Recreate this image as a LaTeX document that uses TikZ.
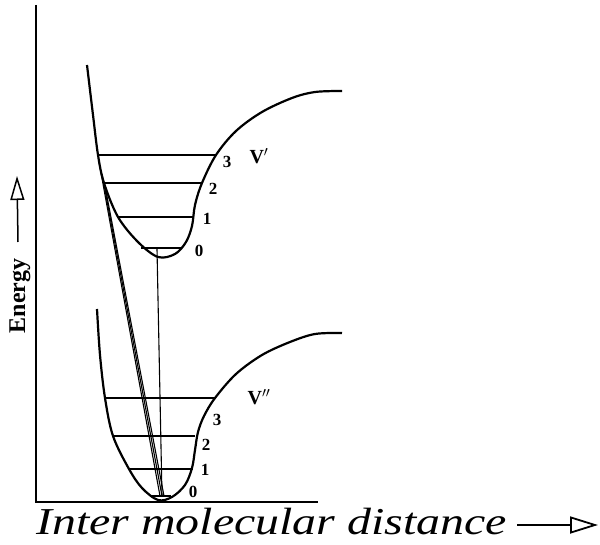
\documentclass[tikz,border=0pt]{standalone}
\usepackage{fontspec}
\setmainfont{Liberation Serif}
\usetikzlibrary{arrows.meta}
\begin{document}
\begin{tikzpicture}[x=1pt,y=-1pt,
  curve/.style={line width=2.2pt,line join=round},
  level/.style={line width=1.8pt},
  trans/.style={line width=1.1pt},
  axis/.style={line width=2pt},
  num/.style={font=\fontsize{17}{17}\selectfont\bfseries,inner sep=0pt},
  vlab/.style={font=\fontsize{20}{20}\selectfont\bfseries,inner sep=0pt}]
\useasboundingbox (0,0) rectangle (600,545);
% axes
\coordinate (O) at (36,502);
\coordinate (Ytop) at (36,5);
\coordinate (Xend) at (318,502);
\draw[axis] (Ytop) -- (O) -- (Xend);
% upper potential curve
\draw[curve] plot[smooth,tension=0.55] coordinates {(87,65) (93,115) (98,155) (104,183) (118,217) (138,242) (158,257) (175,254) (186,242) (192,226) (195,205) (202,183) (216,155) (236,131) (262,112) (292,98) (315,92) (342,91)};
% lower potential curve
\draw[curve] plot[smooth,tension=0.55] coordinates {(97,309) (100,355) (105,398) (113,436) (129,469) (142,488) (158,500) (172,497) (185,485) (192,468) (195,450) (198,432) (204,416) (215,398) (236,374) (262,355) (290,342) (315,334) (342,333)};
% upper levels
\coordinate (u3l) at (98,155); \coordinate (u3r) at (216,155);
\coordinate (u2l) at (104,183); \coordinate (u2r) at (202,183);
\coordinate (u1l) at (118,217); \coordinate (u1r) at (193,217);
\coordinate (u0l) at (141,248); \coordinate (u0r) at (182,248);
\draw[level] (u3l) -- (u3r);
\draw[level] (u2l) -- (u2r);
\draw[level] (u1l) -- (u1r);
\draw[level] (u0l) -- (u0r);
% lower levels
\coordinate (l3l) at (105,398); \coordinate (l3r) at (215,398);
\coordinate (l2l) at (113,436); \coordinate (l2r) at (195,436);
\coordinate (l1l) at (129,469); \coordinate (l1r) at (193,469);
\coordinate (l0l) at (151,496); \coordinate (l0r) at (171,496);
\draw[level] (l3l) -- (l3r);
\draw[level] (l2l) -- (l2r);
\draw[level] (l1l) -- (l1r);
\draw[level] (l0l) -- (l0r);
% transitions
\coordinate (u0m) at (157,249);
\coordinate (l0m) at (162,496);
\draw[trans] (u0m) -- (l0m);
\coordinate (ta) at (99,162);
\coordinate (tb) at (102,174);
\coordinate (tc) at (105,186);
\coordinate (ba) at (160,496);
\coordinate (bb) at (162,496);
\coordinate (bc) at (164,496);
\draw[trans] (ta) -- (ba);
\draw[trans] (tb) -- (bb);
\draw[trans] (tc) -- (bc);
% labels upper
\node[num] (n3u) at (227,162) {3};
\node[num] (n2u) at (213,189) {2};
\node[num] (n1u) at (207,219) {1};
\node[num] (n0u) at (199,251) {0};
\node[vlab] (vu) at (259,156) {V$'$};
% labels lower
\node[num] (n3l) at (217,420) {3};
\node[num] (n2l) at (206,445) {2};
\node[num] (n1l) at (205,470) {1};
\node[num] (n0l) at (193,492) {0};
\node[vlab] (vl) at (259,397) {V$''$};
% energy label
\node[rotate=90,font=\fontsize{24}{24}\selectfont\bfseries,inner sep=0pt] (en) at (20,296) {Energy};
\coordinate (ea) at (18,242);
\coordinate (eb) at (17,176);
\draw[line width=1.5pt,-{Triangle[open,length=24pt,width=14pt,line width=1.5pt]}] (ea) -- (eb);
% x label
\node[anchor=base west,xscale=1.26,font=\fontsize{38}{38}\selectfont\itshape,inner sep=0pt] (xl) at (36,534) {Inter molecular distance};
\coordinate (xa) at (517,525);
\coordinate (xb) at (598,525);
\draw[line width=1.8pt,-{Triangle[open,length=28pt,width=17pt,line width=1.8pt]}] (xa) -- (xb);
\end{tikzpicture}
\end{document}
